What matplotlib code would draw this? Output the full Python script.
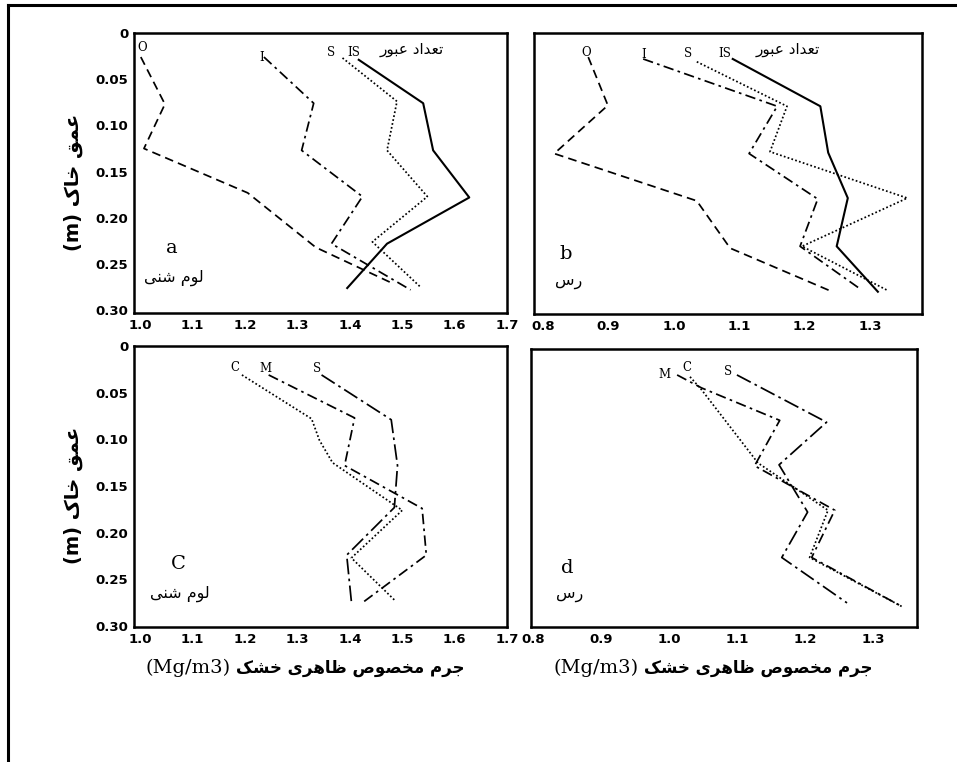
import matplotlib
matplotlib.use("Agg")
import matplotlib.pyplot as plt
from matplotlib.lines import Line2D

# panel a - sandy loam, passes (O, I, S, IS)
a_O_x = [1.001, 1.047, 1.007, 1.205, 1.335, 1.478]
a_O_y = [0.026, 0.077, 0.125, 0.173, 0.232, 0.270]
a_I_x = [1.236, 1.331, 1.308, 1.424, 1.365, 1.516]
a_I_y = [0.026, 0.076, 0.127, 0.177, 0.228, 0.278]
a_S_x = [1.386, 1.490, 1.471, 1.548, 1.443, 1.535]
a_S_y = [0.027, 0.074, 0.127, 0.177, 0.226, 0.275]
a_IS_x = [1.417, 1.540, 1.559, 1.628, 1.471, 1.395]
a_IS_y = [0.029, 0.076, 0.127, 0.178, 0.228, 0.276]

# panel b - clay, passes
b_O_x = [0.869, 0.899, 0.817, 1.035, 1.086, 1.239]
b_O_y = [0.026, 0.078, 0.130, 0.181, 0.232, 0.278]
b_I_x = [0.953, 1.158, 1.115, 1.220, 1.193, 1.285]
b_I_y = [0.028, 0.079, 0.130, 0.179, 0.230, 0.276]
b_S_x = [1.035, 1.173, 1.147, 1.357, 1.196, 1.328]
b_S_y = [0.031, 0.079, 0.128, 0.178, 0.230, 0.278]
b_IS_x = [1.090, 1.224, 1.236, 1.266, 1.249, 1.312]
b_IS_y = [0.028, 0.079, 0.129, 0.178, 0.230, 0.279]

# panel c - sandy loam, C / M / S
c_C_x = [1.194, 1.327, 1.342, 1.367, 1.500, 1.403, 1.485]
c_C_y = [0.031, 0.078, 0.101, 0.125, 0.176, 0.227, 0.272]
c_M_x = [1.245, 1.409, 1.390, 1.538, 1.546, 1.424]
c_M_y = [0.031, 0.077, 0.128, 0.174, 0.224, 0.275]
c_S_x = [1.346, 1.479, 1.491, 1.485, 1.394, 1.403]
c_S_y = [0.031, 0.079, 0.128, 0.173, 0.224, 0.274]

# panel d - clay, C / M / S
d_S_x = [1.100, 1.232, 1.162, 1.204, 1.166, 1.262]
d_S_y = [0.028, 0.079, 0.125, 0.176, 0.225, 0.274]
d_M_x = [1.012, 1.048, 1.163, 1.126, 1.244, 1.210, 1.343]
d_M_y = [0.028, 0.042, 0.077, 0.126, 0.174, 0.225, 0.278]
d_C_x = [1.031, 1.048, 1.131, 1.234, 1.207, 1.343]
d_C_y = [0.030, 0.044, 0.123, 0.174, 0.225, 0.278]

ticks_sandy = [1.0, 1.1, 1.2, 1.3, 1.4, 1.5, 1.6, 1.7]
ticks_clay = [0.8, 0.9, 1.0, 1.1, 1.2, 1.3]
depth_ticks = [0, 0.05, 0.10, 0.15, 0.20, 0.25, 0.30]
depth_labels = ["0", "0.05", "0.10", "0.15", "0.20", "0.25", "0.30"]

txt_passes = "تعداد عبور"
txt_sandy = "لوم شنی"
txt_clay = "رس"
txt_depth = "عمق خاک"
txt_density = "جرم مخصوص ظاهری خشک"

# contextual forms: isolated, final, initial, medial
FORMS = {
    "ا": ("\uFE8D", "\uFE8E", None, None),
    "ب": ("\uFE8F", "\uFE90", "\uFE91", "\uFE92"),
    "ت": ("\uFE95", "\uFE96", "\uFE97", "\uFE98"),
    "ج": ("\uFE9D", "\uFE9E", "\uFE9F", "\uFEA0"),
    "خ": ("\uFEA5", "\uFEA6", "\uFEA7", "\uFEA8"),
    "د": ("\uFEA9", "\uFEAA", None, None),
    "ر": ("\uFEAD", "\uFEAE", None, None),
    "س": ("\uFEB1", "\uFEB2", "\uFEB3", "\uFEB4"),
    "ش": ("\uFEB5", "\uFEB6", "\uFEB7", "\uFEB8"),
    "ص": ("\uFEB9", "\uFEBA", "\uFEBB", "\uFEBC"),
    "ظ": ("\uFEC5", "\uFEC6", "\uFEC7", "\uFEC8"),
    "ع": ("\uFEC9", "\uFECA", "\uFECB", "\uFECC"),
    "ق": ("\uFED5", "\uFED6", "\uFED7", "\uFED8"),
    "ل": ("\uFEDD", "\uFEDE", "\uFEDF", "\uFEE0"),
    "م": ("\uFEE1", "\uFEE2", "\uFEE3", "\uFEE4"),
    "ن": ("\uFEE5", "\uFEE6", "\uFEE7", "\uFEE8"),
    "ه": ("\uFEE9", "\uFEEA", "\uFEEB", "\uFEEC"),
    "و": ("\uFEED", "\uFEEE", None, None),
    "ک": ("\uFB8E", "\uFB8F", "\uFB90", "\uFB91"),
    "ی": ("\uFBFC", "\uFBFD", "\uFBFE", "\uFBFF"),
}


def shape(s):
    # join letters and flip to visual (left-to-right) order
    out = []
    for i, ch in enumerate(s):
        if ch not in FORMS:
            out.append(ch)
            continue
        prev = s[i - 1] if i > 0 else ""
        nxt = s[i + 1] if i + 1 < len(s) else ""
        join_prev = prev in FORMS and FORMS[prev][2] is not None
        join_next = FORMS[ch][2] is not None and nxt in FORMS
        iso, fin, ini, med = FORMS[ch]
        if join_prev and join_next:
            out.append(med)
        elif join_prev:
            out.append(fin)
        elif join_next:
            out.append(ini)
        else:
            out.append(iso)
    return "".join(out[::-1])


W, H = 957, 762
fig = plt.figure(figsize=(W / 100, H / 100), dpi=100)


def box(l, t, r, b):
    return [l / W, 1 - b / H, (r - l) / W, (b - t) / H]


# outer frame (left and top edges)
fig.add_artist(Line2D([8 / W, 8 / W], [0, 1 - 5 / H], color="black", lw=2.2,
                      transform=fig.transFigure))
fig.add_artist(Line2D([8 / W, 1], [1 - 5 / H, 1 - 5 / H], color="black", lw=2.2,
                      transform=fig.transFigure))

ax_a = fig.add_axes(box(134, 33, 507, 313))
ax_b = fig.add_axes(box(534, 33, 922, 314))
ax_c = fig.add_axes(box(134, 346, 507, 627))
ax_d = fig.add_axes(box(531, 349, 917, 627))

tick_font = dict(fontsize=9.5, fontweight="bold", family="DejaVu Sans")

for ax, xt, xl, yl, show_y in [
    (ax_a, ticks_sandy, (0.988, 1.698), (0.303, 0), True),
    (ax_b, ticks_clay, (0.786, 1.3795), (0.303, 0), False),
    (ax_c, ticks_sandy, (0.988, 1.698), (0.301, 0), True),
    (ax_d, ticks_clay, (0.797, 1.365), (0.300, 0), False),
]:
    ax.set_xlim(*xl)
    ax.set_ylim(*yl)
    ax.set_xticks(xt)
    ax.set_xticklabels(["%.1f" % v for v in xt], **tick_font)
    ax.tick_params(length=0, pad=4)
    if show_y:
        ax.set_yticks(depth_ticks)
        ax.set_yticklabels(depth_labels, **tick_font)
    else:
        ax.set_yticks([])
    for sp in ax.spines.values():
        sp.set_linewidth(1.8)

dashed = (0, (5, 3))
dashdot = (0, (6, 2.5, 1.5, 2.5))
longdashdot = (0, (9, 2.5, 1.5, 2.5))
dotted = (0, (1, 1.3))
lw = 1.25

for ax, sets in [
    (ax_a, [(a_O_x, a_O_y, dashed), (a_I_x, a_I_y, dashdot),
            (a_S_x, a_S_y, dotted), (a_IS_x, a_IS_y, "-")]),
    (ax_b, [(b_O_x, b_O_y, dashed), (b_I_x, b_I_y, dashdot),
            (b_S_x, b_S_y, dotted), (b_IS_x, b_IS_y, "-")]),
    (ax_c, [(c_C_x, c_C_y, dotted), (c_M_x, c_M_y, dashdot),
            (c_S_x, c_S_y, longdashdot)]),
    (ax_d, [(d_C_x, d_C_y, dotted), (d_M_x, d_M_y, dashdot),
            (d_S_x, d_S_y, longdashdot)]),
]:
    for xs, ys, ls in sets:
        ax.plot(xs, ys, color="black", lw=lw if ls != "-" else 1.5, linestyle=ls)

serif = dict(family="DejaVu Serif", fontsize=8.5, ha="center", va="center")
fa_small = dict(family="DejaVu Sans", fontsize=11, ha="center", va="center")

# series names
for ax, items in [
    (ax_a, [("O", 1.003, 0.016), ("I", 1.232, 0.026), ("S", 1.365, 0.021), ("IS", 1.407, 0.021)]),
    (ax_b, [("O", 0.866, 0.021), ("I", 0.954, 0.023), ("S", 1.021, 0.022), ("IS", 1.078, 0.022)]),
    (ax_c, [("C", 1.180, 0.023), ("M", 1.238, 0.024), ("S", 1.337, 0.024)]),
    (ax_d, [("M", 0.994, 0.027), ("C", 1.026, 0.020), ("S", 1.087, 0.024)]),
]:
    for name, x, y in items:
        ax.text(x, y, name, **serif)

ax_a.text(1.519, 0.018, shape(txt_passes), **fa_small)
ax_b.text(1.174, 0.018, shape(txt_passes), **fa_small)

# panel letters and soil texture
for ax, letter, lx, ly, soil, sy in [
    (ax_a, "a", 1.060, 0.233, txt_sandy, 0.265),
    (ax_b, "b", 0.835, 0.238, txt_clay, 0.268),
    (ax_c, "C", 1.072, 0.234, txt_sandy, 0.265),
    (ax_d, "d", 0.850, 0.236, txt_clay, 0.265),
]:
    ax.text(lx, ly, letter, family="DejaVu Serif", fontsize=14, ha="center", va="center")
    ax.text(lx + 0.004, sy, shape(soil), family="DejaVu Sans", fontsize=11.5,
            ha="center", va="center")

# depth labels
for yc in (182, 495):
    fig.text(73 / W, 1 - yc / H, "(m) " + shape(txt_depth), rotation=90,
             family="DejaVu Sans", fontweight="bold", fontsize=14,
             ha="center", va="center")

# density labels: Persian part right, unit to its left
renderer = fig.canvas.get_renderer()
for x_right in (465, 873):
    t = fig.text(x_right / W, 1 - 668 / H, shape(txt_density), family="DejaVu Sans",
                 fontweight="bold", fontsize=12, ha="right", va="center")
    bb = t.get_window_extent(renderer)
    fig.text((bb.x0 - 6) / W, 1 - 668 / H, "(Mg/m3)", family="DejaVu Serif",
             fontsize=14, ha="right", va="center")

fig.savefig("out.png", dpi=100)
